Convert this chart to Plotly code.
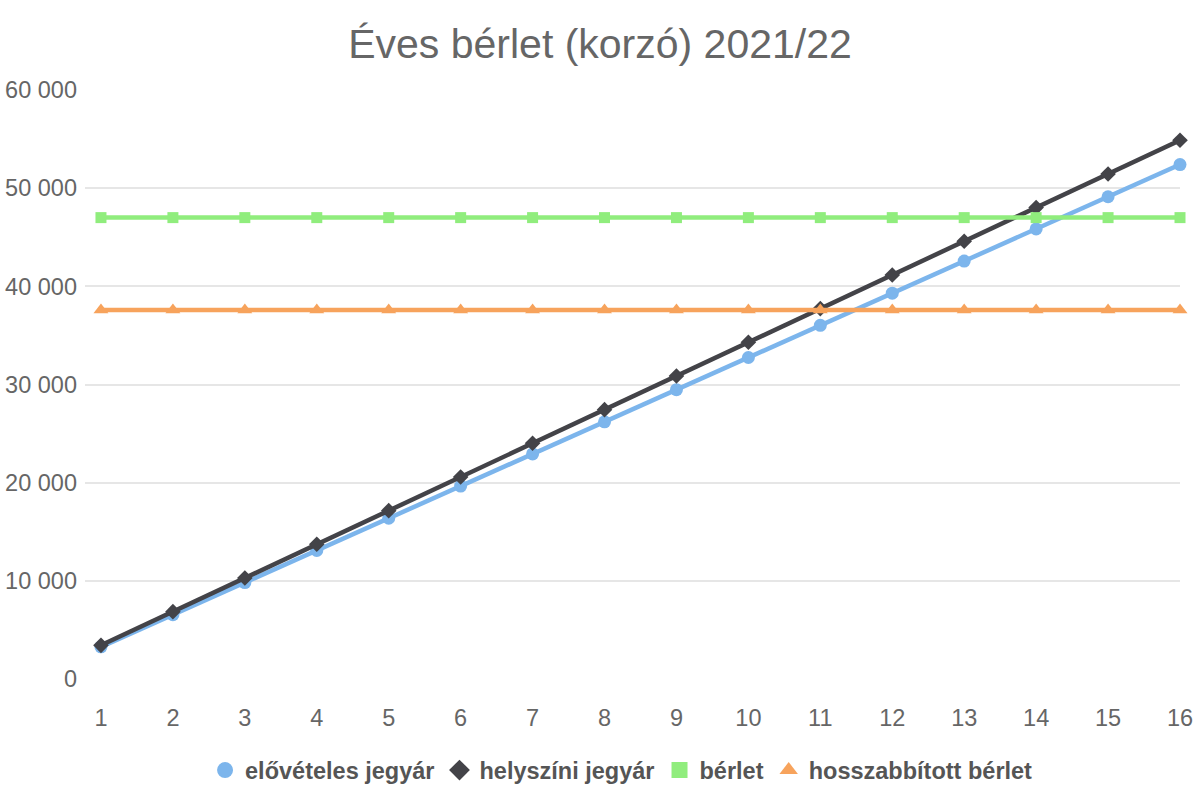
import plotly.graph_objects as go

months = list(range(1, 17))
elovet = [3275, 6550, 9825, 13100, 16375, 19650, 22925, 26200, 29475, 32750,
          36025, 39300, 42575, 45850, 49125, 52400]
helyszini = [3430, 6860, 10290, 13720, 17150, 20580, 24010, 27440, 30870, 34300,
             37730, 41160, 44590, 48020, 51450, 54880]
berlet = [47000] * 16
hosszabbitott = [37600] * 16

names = ["elővételes jegyár", "helyszíni jegyár", "bérlet", "hosszabbított bérlet"]
colors = ["#7cb5ec", "#434348", "#90ed7d", "#f7a35c"]
symbols = ["circle", "diamond", "square", "triangle-up"]
sizes = [13, 12, 11, 13]
series = [elovet, helyszini, berlet, hosszabbitott]

ytick_vals = [0, 10000, 20000, 30000, 40000, 50000, 60000]
ytick_text = ["0", "10 000", "20 000", "30 000", "40 000", "50 000", "60 000"]

fig = go.Figure()
for nm, col, sym, sz, ys in zip(names, colors, symbols, sizes, series):
    fig.add_trace(go.Scatter(
        x=months, y=ys, name=nm, mode="lines+markers",
        line=dict(color=col, width=4.5),
        marker=dict(color=col, symbol=sym, size=sz),
        showlegend=False, cliponaxis=False,
    ))
for nm, col, sym in zip(names, colors, symbols):
    fig.add_trace(go.Scatter(
        x=[None], y=[None], name=nm, mode="markers",
        marker=dict(color=col, symbol=sym, size=16),
        showlegend=True,
    ))

fig.update_layout(
    width=1200, height=800,
    margin=dict(l=85, r=20, t=90, b=121, autoexpand=False),
    paper_bgcolor="white", plot_bgcolor="white",
    font=dict(family="Liberation Sans, Arial, sans-serif", color="#666666"),
    title=dict(text="Éves bérlet (korzó) 2021/22", x=0.5, xanchor="center",
               y=0.945, yanchor="middle", yref="container",
               font=dict(size=41, color="#666666")),
    xaxis=dict(range=[0.778, 16], tickmode="array", tickvals=months,
               ticktext=[str(m) for m in months], showgrid=False,
               zeroline=False, showline=False, ticks="", automargin=False,
               ticklabelstandoff=22, tickfont=dict(size=23.5, color="#666666")),
    yaxis=dict(range=[0, 60000], tickmode="array", tickvals=ytick_vals,
               ticktext=ytick_text, showgrid=True, gridcolor="#e6e6e6",
               gridwidth=2, zeroline=False, showline=False, ticks="",
               automargin=False,
               ticklabelstandoff=7, tickfont=dict(size=23.5, color="#666666")),
    legend=dict(orientation="h", x=0.49, xanchor="center", y=-0.155,
                yanchor="middle", font=dict(size=23.5, color="#555555",
                family="Liberation Sans, Arial, sans-serif", weight="bold"),
                itemsizing="trace", traceorder="normal", itemwidth=30),
)

fig.write_html("out.html")
